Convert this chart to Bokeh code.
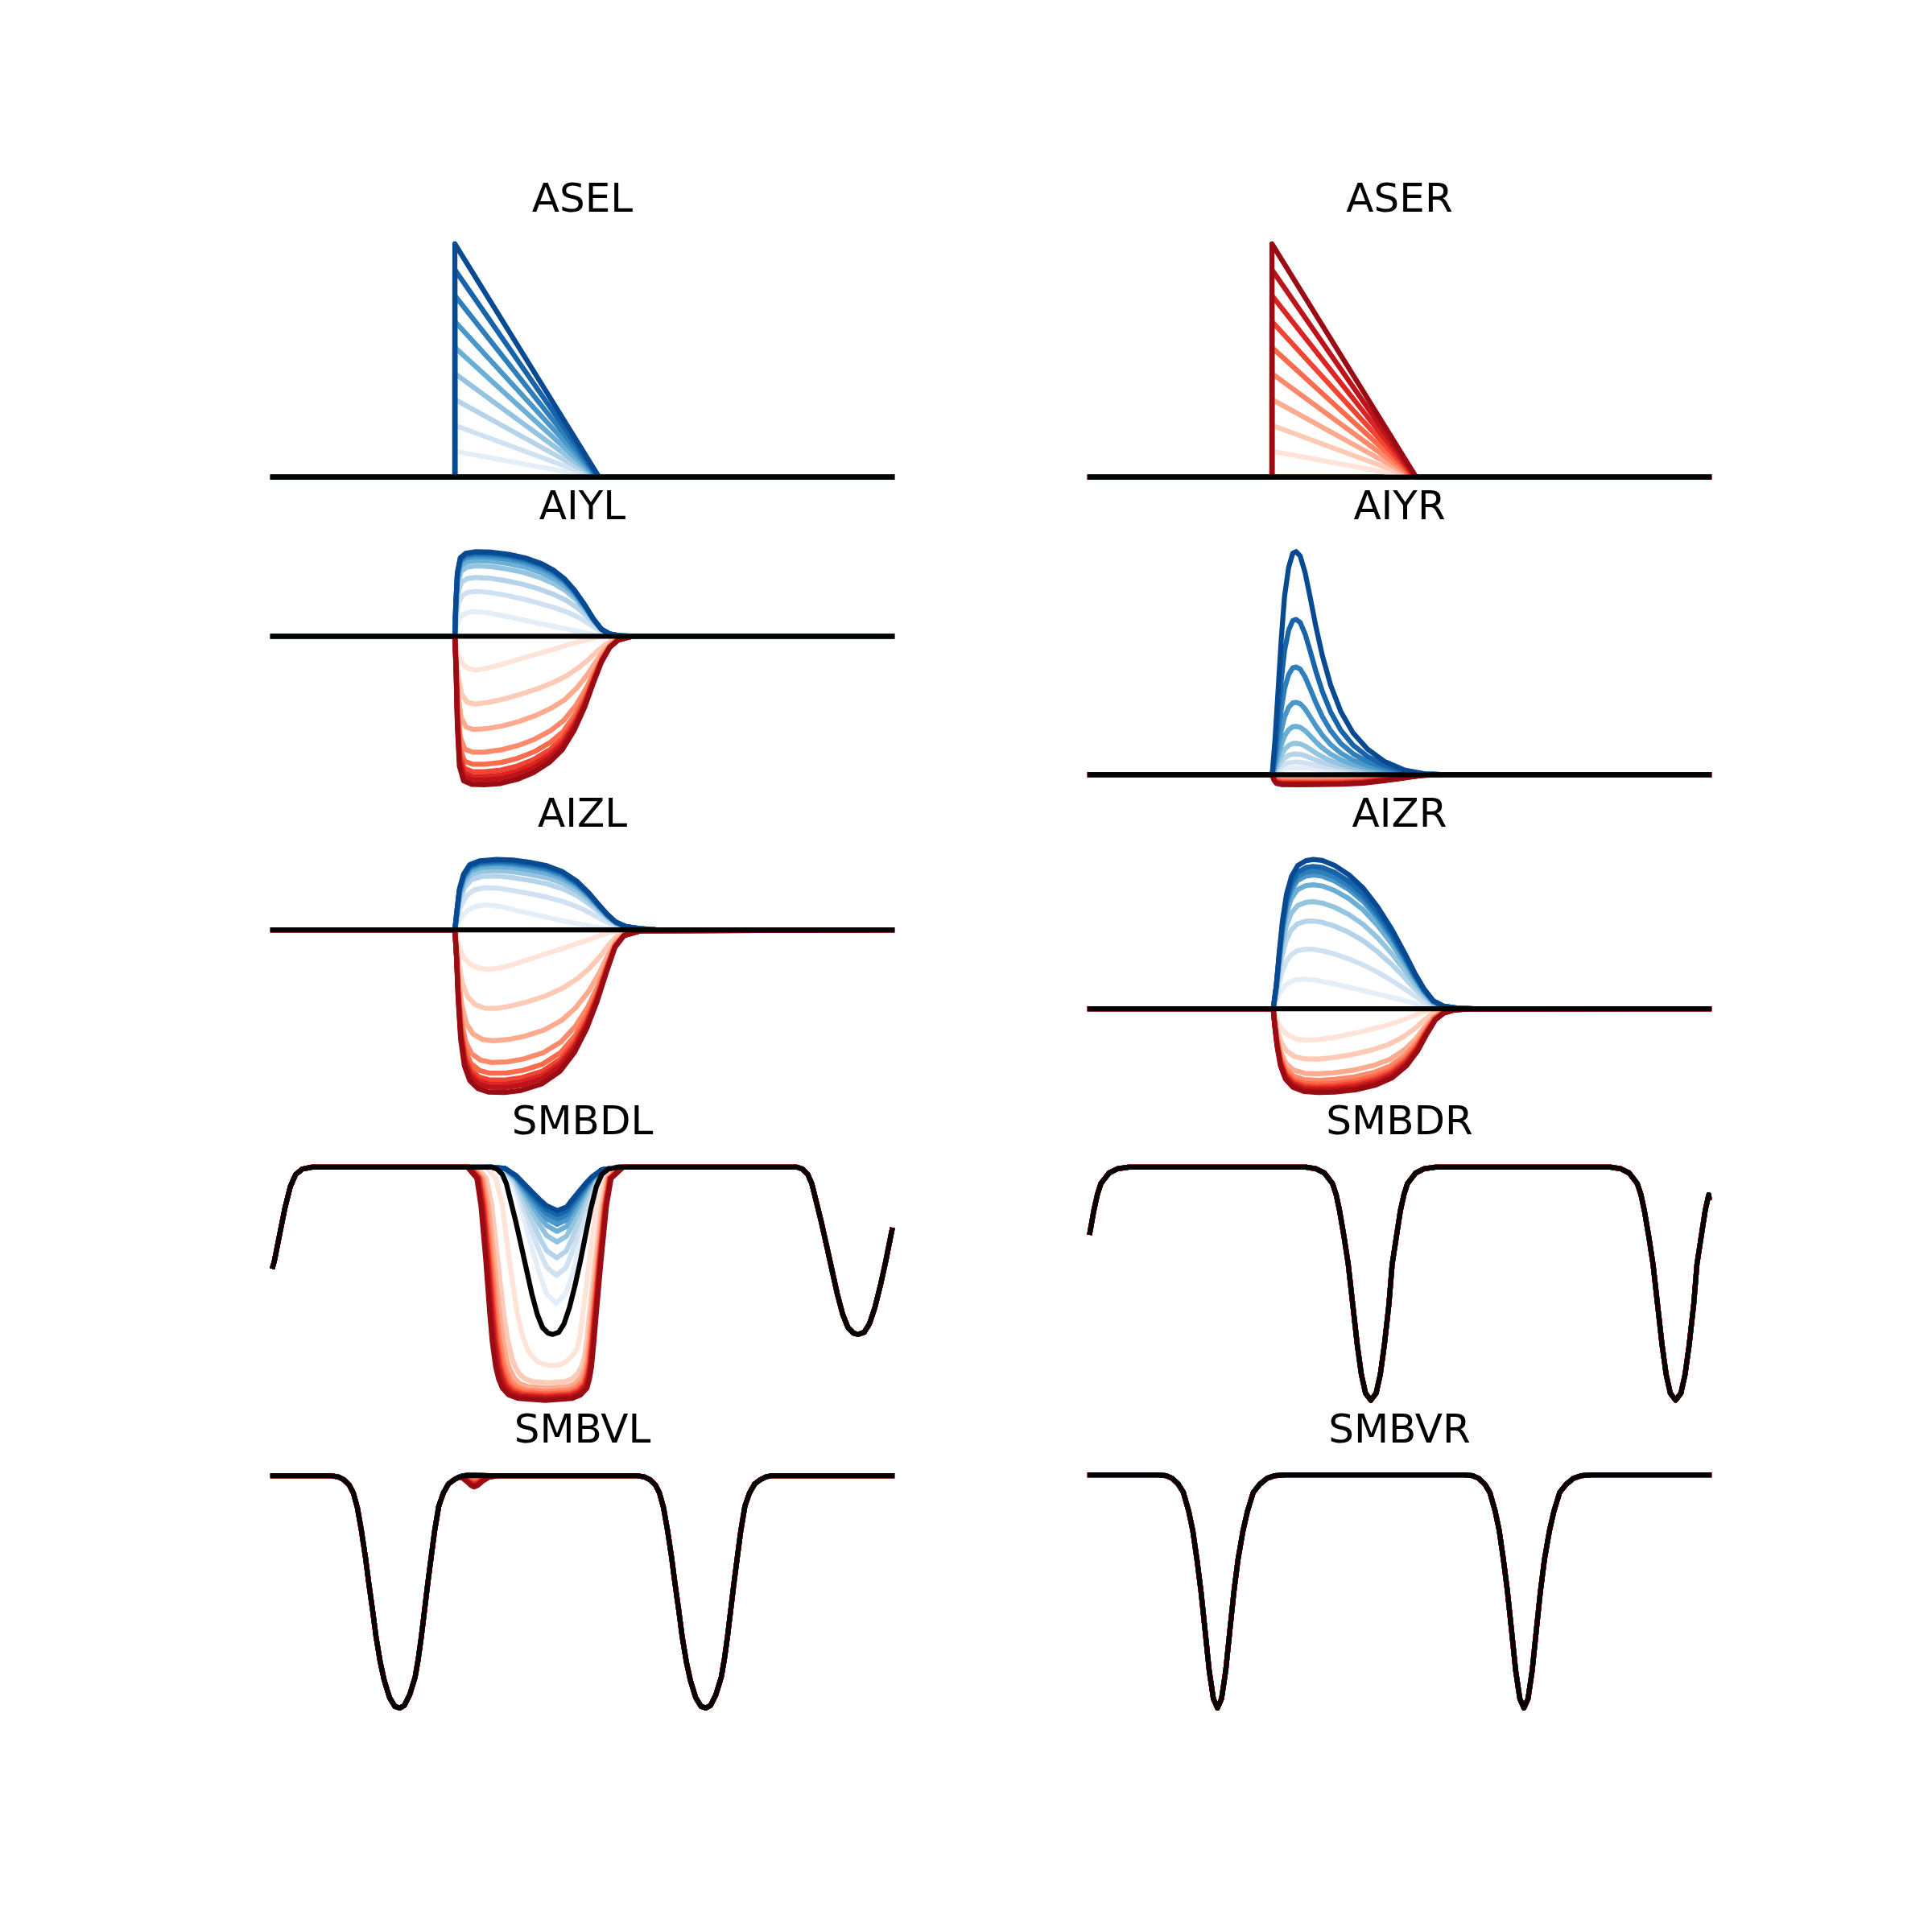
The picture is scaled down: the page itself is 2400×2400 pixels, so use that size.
import numpy as np
from bokeh.plotting import figure
from bokeh.layouts import column, row
from bokeh.models import Range1d, Label
from bokeh.embed import file_html
from bokeh.resources import INLINE

# ------------------------------------------------------------------ data
titles = [["ASEL", "ASER"], ["AIYL", "AIYR"], ["AIZL", "AIZR"],
          ["SMBDL", "SMBDR"], ["SMBVL", "SMBVR"]]
T0, T1 = 0.0, 100.0

# ASE sensory input: ramps (lightest k=1 curve, darkest k=9 curve, levels)
ase_t_light = [0.0, 29.4, 29.4, 51.9, 100.0]
ase_v_light = [0.0, 0.0, 0.111, 0.0, 0.0]
ase_t_dark = [0.0, 29.4, 29.4, 52.7, 100.0]
ase_v_dark = [0.0, 0.0, 1.0, 0.0, 0.0]
ase_levels = [0.111, 0.222, 0.333, 0.444, 0.556, 0.667, 0.778, 0.889, 1.0]

# AIYL
aiyl_blue_t_dark = [29.4, 29.54, 29.80, 30.27, 31.13, 32.79, 35.44, 38.10, 40.75, 43.41, 45.40,
                    47.06, 48.72, 50.38, 51.71, 53.03, 54.36, 56.02, 58.68]
aiyl_blue_v_dark = [0, 0.39, 0.79, 0.973, 1.03, 1.05, 1.043, 1.017, 0.973, 0.9, 0.817, 0.717,
                    0.573, 0.39, 0.223, 0.09, 0.03, 0.007, 0]
aiyl_blue_t_light = [29.4, 29.6, 30.0, 30.8, 31.79, 32.79, 34.78, 37.43, 40.09, 42.74, 45.40,
                     48.05, 50.05, 51.71, 53.03, 54.36, 55.69, 57.35, 58.68]
aiyl_blue_v_light = [0, 0.09, 0.207, 0.273, 0.303, 0.307, 0.29, 0.25, 0.207, 0.163, 0.123, 0.08,
                     0.05, 0.023, 0.007, 0, 0, 0, 0]
aiyl_blue_levels = [0.307, 0.557, 0.73, 0.873, 0.94, 0.99, 1.017, 1.037, 1.05]
aiyl_red_t_dark = [29.4, 29.6, 29.8, 30.13, 30.8, 32.12, 34.11, 36.77, 39.42, 42.08, 44.74,
                   46.73, 48.72, 50.38, 51.71, 53.03, 54.36, 55.69, 58.01]
aiyl_red_v_dark = [0, -0.443, -1.11, -1.61, -1.793, -1.837, -1.843, -1.827, -1.777, -1.693,
                   -1.56, -1.41, -1.16, -0.877, -0.593, -0.327, -0.143, -0.05, 0]
aiyl_red_t_light = [29.4, 29.6, 30.0, 30.66, 31.59, 32.79, 34.78, 37.43, 40.09, 42.74, 45.40,
                    47.72, 49.72, 51.38, 52.70, 54.03, 55.36, 56.69, 58.01]
aiyl_red_v_light = [0, -0.11, -0.243, -0.343, -0.403, -0.42, -0.393, -0.337, -0.277, -0.217,
                    -0.16, -0.103, -0.06, -0.03, -0.01, -0.003, 0, 0, 0]
aiyl_red_levels = [-0.42, -0.843, -1.16, -1.443, -1.593, -1.683, -1.743, -1.787, -1.843]

# AIYR
aiyr_blue_t = [29.44, 29.91, 30.37, 30.90, 31.43, 32.10, 32.76, 33.29, 33.96, 34.75, 35.55,
               36.48, 37.54, 38.87, 40.53, 42.52, 44.84, 47.50, 50.82, 54.13, 57.45]
aiyr_blue_v_dark = [0, 0.45, 1.017, 1.683, 2.217, 2.583, 2.757, 2.777, 2.723, 2.517, 2.217,
                    1.85, 1.483, 1.117, 0.783, 0.517, 0.317, 0.167, 0.057, 0.01, 0]
aiyr_blue_v_light = [0, 0.015, 0.035, 0.055, 0.07, 0.08, 0.084, 0.085, 0.084, 0.08, 0.075,
                     0.068, 0.06, 0.052, 0.043, 0.033, 0.024, 0.015, 0.007, 0.002, 0]
aiyr_blue_levels = [0.085, 0.157, 0.257, 0.39, 0.60, 0.90, 1.34, 1.933, 2.777]
aiyr_red_t = [29.44, 29.71, 30.11, 30.90, 33.56, 36.88, 40.86, 44.18, 47.50, 50.15, 52.14,
              53.80, 55.46, 57.45]
aiyr_red_v_dark = [0, -0.067, -0.11, -0.123, -0.127, -0.125, -0.12, -0.107, -0.077, -0.05,
                   -0.027, -0.01, -0.003, 0]
aiyr_red_v_light = [0, -0.01, -0.017, -0.02, -0.02, -0.02, -0.019, -0.017, -0.012, -0.008,
                    -0.004, -0.002, 0, 0]
aiyr_red_levels = [-0.02, -0.04, -0.06, -0.075, -0.088, -0.1, -0.11, -0.118, -0.127]

# AIZL
aizl_blue_t_dark = [29.4, 29.73, 30.13, 30.8, 31.79, 33.45, 36.11, 38.76, 41.42, 44.07, 46.73,
                    49.05, 51.04, 52.70, 54.03, 55.36, 57.02, 59.34, 61.99]
aizl_blue_v_dark = [0, 0.243, 0.51, 0.693, 0.81, 0.86, 0.877, 0.87, 0.843, 0.803, 0.727, 0.61,
                    0.46, 0.31, 0.193, 0.1, 0.043, 0.017, 0]
aizl_blue_t_light = [29.4, 29.87, 30.47, 31.46, 32.79, 34.45, 36.77, 39.42, 42.08, 44.74,
                     47.39, 49.72, 51.71, 53.37, 54.69, 56.02, 57.35, 59.67, 61.99]
aizl_blue_v_light = [0, 0.077, 0.16, 0.243, 0.293, 0.31, 0.29, 0.24, 0.195, 0.15, 0.105, 0.07,
                     0.04, 0.02, 0.008, 0.002, 0, 0, 0]
aizl_blue_levels = [0.31, 0.53, 0.677, 0.743, 0.793, 0.827, 0.843, 0.86, 0.877]
aizl_red_t_dark = [29.4, 29.67, 29.93, 30.33, 30.93, 31.79, 33.12, 34.78, 37.43, 40.09, 43.41,
                   46.40, 48.72, 50.71, 52.37, 53.90, 55.22, 56.68, 59.34]
aizl_red_v_dark = [0, -0.357, -0.857, -1.357, -1.69, -1.873, -1.973, -2.017, -2.023, -1.997,
                   -1.917, -1.757, -1.523, -1.223, -0.89, -0.523, -0.223, -0.073, -0.013]
aizl_red_t_light = [29.4, 29.73, 30.13, 30.8, 31.79, 33.12, 34.78, 36.77, 39.09, 41.75, 44.41,
                    47.06, 49.38, 51.38, 53.03, 54.36, 55.69, 57.35, 59.34]
aizl_red_v_light = [0, -0.09, -0.223, -0.34, -0.423, -0.473, -0.49, -0.473, -0.423, -0.357,
                    -0.29, -0.223, -0.163, -0.113, -0.063, -0.03, -0.01, 0, 0]
aizl_red_levels = [-0.49, -0.99, -1.39, -1.657, -1.79, -1.873, -1.923, -1.963, -2.023]

# AIZR
aizr_blue_t_dark = [29.6, 30.11, 30.57, 31.10, 31.76, 32.56, 33.56, 34.88, 36.08, 37.54, 39.53,
                    41.85, 44.18, 46.50, 48.82, 50.82, 52.47, 54.0, 55.46, 57.12, 59.44, 62.10]
aizr_blue_v_dark = [0, 0.293, 0.693, 1.093, 1.427, 1.643, 1.777, 1.837, 1.853, 1.84, 1.777,
                    1.66, 1.493, 1.26, 0.977, 0.693, 0.443, 0.243, 0.1, 0.033, 0.007, 0]
aizr_blue_t_light = [29.6, 29.97, 30.44, 30.97, 31.63, 32.43, 33.42, 34.75, 35.95, 37.41, 39.40,
                     41.72, 44.04, 46.37, 48.69, 50.68, 52.34, 53.87, 55.33, 56.99, 59.31, 62.10]
aizr_blue_v_light = [0, 0.077, 0.16, 0.233, 0.293, 0.337, 0.36, 0.367, 0.36, 0.34, 0.31, 0.267,
                     0.227, 0.183, 0.14, 0.103, 0.07, 0.04, 0.017, 0.003, 0, 0]
aizr_blue_levels = [0.367, 0.743, 1.093, 1.33, 1.54, 1.66, 1.71, 1.767, 1.853]
aizr_red_t_dark = [29.6, 29.84, 30.24, 30.77, 31.57, 32.76, 34.55, 36.88, 39.53, 42.85, 46.17,
                   48.82, 51.15, 52.94, 54.47, 55.79, 57.12, 58.78, 61.10]
aizr_red_v_dark = [0, -0.207, -0.473, -0.707, -0.873, -0.973, -1.027, -1.04, -1.033, -1.007,
                   -0.947, -0.857, -0.707, -0.523, -0.307, -0.14, -0.057, -0.017, -0.003]
aizr_red_t_light = [29.6, 29.91, 30.37, 31.03, 31.90, 33.22, 34.88, 36.88, 39.20, 42.19, 45.17,
                    47.83, 50.15, 52.14, 53.80, 55.13, 56.46, 58.45, 61.10]
aizr_red_v_light = [0, -0.073, -0.173, -0.257, -0.323, -0.373, -0.39, -0.383, -0.36, -0.313,
                    -0.26, -0.207, -0.15, -0.09, -0.04, -0.013, -0.003, 0, 0]
aizr_red_levels = [-0.39, -0.628, -0.81, -0.89, -0.937, -0.967, -0.99, -1.013, -1.04]

# SMB oscillators: black (unperturbed) dip profile, dip times, edge values
smbdl_dip_dt = [-9.88, -9.0, -8.15, -7.5, -6.85, -5.98, -5.11, -4.25, -3.38, -2.51, -1.65, -0.78,
                0.0, 0.95, 1.82, 2.69, 3.56, 4.43, 5.29, 6.16, 7.03, 7.9, 8.98, 10.5]
smbdl_dip_v = [1.0, 0.992, 0.969, 0.929, 0.860, 0.767, 0.664, 0.561, 0.457, 0.370, 0.313, 0.290,
               0.284, 0.293, 0.330, 0.399, 0.491, 0.595, 0.710, 0.825, 0.917, 0.969, 0.992, 1.0]
smbdl_dip_times = [-4.21, 45.22, 94.55]
smbdl_edges = [0.575, 0.73]
smbdl_blue_t_dark = [35.3, 37.5, 39.24, 40.54, 41.84, 43.14, 44.23, 45.96, 47.48, 48.34, 49.43,
                     50.51, 51.6, 53.12, 56.0]
smbdl_blue_v_dark = [1.0, 0.995, 0.965, 0.93, 0.895, 0.86, 0.835, 0.814, 0.83, 0.86, 0.895, 0.93,
                     0.96, 0.989, 1.0]
smbdl_blue_t_light = [35.3, 37.5, 39.24, 40.54, 41.84, 43.14, 44.23, 45.74, 47.26, 48.34, 49.43,
                      50.51, 51.6, 53.12, 56.0]
smbdl_blue_v_light = [1.0, 0.986, 0.906, 0.779, 0.652, 0.537, 0.457, 0.417, 0.457, 0.537, 0.652,
                      0.779, 0.906, 0.986, 1.0]
smbdl_blue_levels = [0.417, 0.537, 0.612, 0.68, 0.725, 0.755, 0.778, 0.797, 0.814]
smbdl_red_t_dark = [31.43, 32.95, 33.60, 34.38, 35.03, 35.45, 35.99, 36.45, 37.07, 38.1, 39.67,
                    44.01, 48.35, 49.7, 50.73, 51.15, 51.47, 51.85, 52.25, 53.03, 53.90, 54.64,
                    56.59]
smbdl_red_v_dark = [1.0, 0.952, 0.837, 0.607, 0.376, 0.25, 0.146, 0.095, 0.054, 0.025, 0.010,
                    0.002, 0.010, 0.025, 0.054, 0.095, 0.146, 0.25, 0.376, 0.607, 0.837, 0.952,
                    1.0]
smbdl_red_t_light = [34.47, 35.99, 37.07, 38.15, 39.46, 40.3, 41.19, 41.9, 42.71, 43.35, 44.01,
                     45.09, 46.39, 47.2, 47.91, 48.6, 49.21, 49.68, 50.08, 51.16, 52.25, 53.12,
                     54.85]
smbdl_red_v_light = [1.0, 0.952, 0.837, 0.607, 0.376, 0.28, 0.215, 0.19, 0.169, 0.16, 0.154,
                     0.150, 0.155, 0.165, 0.181, 0.2, 0.227, 0.29, 0.376, 0.607, 0.837, 0.952,
                     1.0]
smbdl_red_levels = [0.150, 0.077, 0.054, 0.039, 0.029, 0.022, 0.016, 0.010, 0.002]

smbdr_dip_dt = [-10.49, -8.83, -7.50, -6.18, -5.6, -5.05, -4.32, -3.65, -2.92, -2.19, -1.53,
                -0.86, 0.0, 0.86, 1.53, 2.19, 2.92, 3.45, 4.12, 4.78, 5.35, 5.91, 7.24, 8.57,
                10.43]
smbdr_dip_v = [1.0, 0.993, 0.975, 0.929, 0.882, 0.814, 0.70, 0.584, 0.411, 0.238, 0.111, 0.031,
               0.0, 0.031, 0.111, 0.238, 0.411, 0.584, 0.70, 0.814, 0.882, 0.929, 0.975, 0.993,
               1.0]
smbdr_dip_times = [-4.15, 45.37, 94.6]
smbdr_edges = [0.72, 0.87]

smbvl_dip_dt = [-11.19, -9.89, -9.02, -8.15, -7.50, -6.85, -6.20, -5.55, -4.99, -4.38, -3.82,
                -3.17, -2.52, -1.65, -0.78, 0.0, 0.74, 1.60, 2.47, 2.99, 3.47, 3.99, 4.51, 5.07,
                5.64, 6.29, 7.03, 7.89, 8.76, 9.63, 10.71]
smbvl_dip_v = [1.0, 0.994, 0.982, 0.959, 0.925, 0.862, 0.764, 0.649, 0.534, 0.419, 0.304, 0.200,
               0.120, 0.045, 0.007, 0.0, 0.011, 0.057, 0.132, 0.212, 0.304, 0.419, 0.534, 0.649,
               0.764, 0.868, 0.925, 0.965, 0.982, 0.994, 1.0]
smbvl_dip_times = [20.5, 69.95]
smbvl_edges = [1.0, 1.0]
smbvl_fam_t = [29.5, 30.13, 30.6, 31.3, 32.0, 32.5, 33.1, 33.9, 34.9, 36.5]
smbvl_red_v_dark = [0.986, 0.994, 0.99, 0.975, 0.958, 0.951, 0.958, 0.976, 0.993, 1.0]
smbvl_red_v_light = [0.986, 0.994, 0.996, 0.995, 0.994, 0.993, 0.994, 0.997, 0.999, 1.0]
smbvl_red_levels = [0.993, 0.988, 0.983, 0.978, 0.973, 0.967, 0.962, 0.956, 0.951]
smbvl_blue_v_dark = [0.986, 0.995, 0.999, 1.002, 1.003, 1.003, 1.002, 1.001, 1.0, 1.0]
smbvl_blue_v_light = [0.986, 0.994, 0.997, 0.999, 1.0, 1.0, 1.0, 1.0, 1.0, 1.0]
smbvl_blue_levels = [1.0, 1.0004, 1.0008, 1.0011, 1.0015, 1.0019, 1.0023, 1.0026, 1.003]

smbvr_dip_dt = [-9.63, -8.30, -7.30, -6.31, -5.51, -4.65, -3.98, -3.32, -2.66, -1.99, -1.33,
                -0.66, 0.0, 0.66, 1.33, 1.99, 2.66, 3.32, 4.12, 4.85, 5.78, 6.84, 7.97, 9.30, 10.96]
smbvr_dip_v = [1.0, 0.997, 0.985, 0.960, 0.925, 0.845, 0.76, 0.638, 0.50, 0.33, 0.16, 0.04, 0.0,
               0.04, 0.16, 0.33, 0.50, 0.638, 0.76, 0.845, 0.925, 0.960, 0.985, 0.997, 1.0]
smbvr_dip_times = [20.6, 70.1]
smbvr_edges = [1.0, 1.0]

BLUES_ANCHORS = ["#f7fbff", "#deebf7", "#c6dbef", "#9ecae1", "#6baed6", "#4292c6",
                 "#2171b5", "#08519c", "#08306b"]
REDS_ANCHORS = ["#fff5f0", "#fee0d2", "#fcbba1", "#fc9272", "#fb6a4a", "#ef3b2c",
                "#cb181d", "#a50f15", "#67000d"]
color_positions = [0.1, 0.2, 0.3, 0.4, 0.5, 0.6, 0.7, 0.8, 0.9]


# ------------------------------------------------------------------ helpers
def cmap(anchors, x):
    pos = np.linspace(0, 1, len(anchors))
    rgb = np.array([[int(a[i:i + 2], 16) for i in (1, 3, 5)] for a in anchors], float)
    c = [int(round(np.interp(x, pos, rgb[:, j]))) for j in range(3)]
    return "#%02x%02x%02x" % tuple(c)


BLUE_COLORS = [cmap(BLUES_ANCHORS, x) for x in color_positions]
RED_COLORS = [cmap(REDS_ANCHORS, x) for x in color_positions]


def family(t_light, v_light, t_dark, v_dark, levels):
    tl, vl, td, vd = (np.asarray(a, float) for a in (t_light, v_light, t_dark, v_dark))
    L = np.asarray(levels, float)
    w = (L - L[0]) / (L[-1] - L[0])
    return [((1 - a) * tl + a * td, (1 - a) * vl + a * vd) for a in w]


def pad0(curves):
    return [(np.r_[T0, t, T1], np.r_[0.0, v, 0.0]) for t, v in curves]


def flat(n):
    return [(np.array([T0, T1]), np.array([0.0, 0.0])) for _ in range(n)]


def oscillation(dip_dt, dip_v, times, edges):
    ts, vs = [], []
    for c in times:
        for d, val in zip(dip_dt, dip_v):
            t = c + d
            if T0 < t < T1:
                ts.append(t)
                vs.append(val)
    order = np.argsort(ts)
    t = np.r_[T0, np.asarray(ts)[order], T1]
    v = np.r_[edges[0], np.asarray(vs)[order], edges[1]]
    return t, v


def splice(base, curves):
    bt, bv = base
    out = []
    for t, v in curves:
        left = bt < t[0]
        right = bt > t[-1]
        out.append((np.r_[bt[left], t, bt[right]], np.r_[bv[left], v, bv[right]]))
    return out


# ------------------------------------------------------------------ panels
zero_black = (np.array([T0, T1]), np.array([0.0, 0.0]))
panels = {}
panels["ASEL"] = (family(ase_t_light, ase_v_light, ase_t_dark, ase_v_dark, ase_levels),
                  flat(9), zero_black)
panels["ASER"] = (flat(9),
                  family(ase_t_light, ase_v_light, ase_t_dark, ase_v_dark, ase_levels),
                  zero_black)
panels["AIYL"] = (pad0(family(aiyl_blue_t_light, aiyl_blue_v_light, aiyl_blue_t_dark,
                              aiyl_blue_v_dark, aiyl_blue_levels)),
                  pad0(family(aiyl_red_t_light, aiyl_red_v_light, aiyl_red_t_dark,
                              aiyl_red_v_dark, aiyl_red_levels)), zero_black)
panels["AIYR"] = (pad0(family(aiyr_blue_t, aiyr_blue_v_light, aiyr_blue_t,
                              aiyr_blue_v_dark, aiyr_blue_levels)),
                  pad0(family(aiyr_red_t, aiyr_red_v_light, aiyr_red_t,
                              aiyr_red_v_dark, aiyr_red_levels)), zero_black)
panels["AIZL"] = (pad0(family(aizl_blue_t_light, aizl_blue_v_light, aizl_blue_t_dark,
                              aizl_blue_v_dark, aizl_blue_levels)),
                  pad0(family(aizl_red_t_light, aizl_red_v_light, aizl_red_t_dark,
                              aizl_red_v_dark, aizl_red_levels)), zero_black)
panels["AIZR"] = (pad0(family(aizr_blue_t_light, aizr_blue_v_light, aizr_blue_t_dark,
                              aizr_blue_v_dark, aizr_blue_levels)),
                  pad0(family(aizr_red_t_light, aizr_red_v_light, aizr_red_t_dark,
                              aizr_red_v_dark, aizr_red_levels)), zero_black)

smbdl_black = oscillation(smbdl_dip_dt, smbdl_dip_v, smbdl_dip_times, smbdl_edges)
panels["SMBDL"] = (splice(smbdl_black, family(smbdl_blue_t_light, smbdl_blue_v_light,
                                              smbdl_blue_t_dark, smbdl_blue_v_dark,
                                              smbdl_blue_levels)),
                   splice(smbdl_black, family(smbdl_red_t_light, smbdl_red_v_light,
                                              smbdl_red_t_dark, smbdl_red_v_dark,
                                              smbdl_red_levels)), smbdl_black)
smbdr_black = oscillation(smbdr_dip_dt, smbdr_dip_v, smbdr_dip_times, smbdr_edges)
panels["SMBDR"] = ([smbdr_black] * 9, [smbdr_black] * 9, smbdr_black)
smbvl_black = oscillation(smbvl_dip_dt, smbvl_dip_v, smbvl_dip_times, smbvl_edges)
panels["SMBVL"] = (splice(smbvl_black, family(smbvl_fam_t, smbvl_blue_v_light, smbvl_fam_t,
                                              smbvl_blue_v_dark, smbvl_blue_levels)),
                   splice(smbvl_black, family(smbvl_fam_t, smbvl_red_v_light, smbvl_fam_t,
                                              smbvl_red_v_dark, smbvl_red_levels)), smbvl_black)
smbvr_black = oscillation(smbvr_dip_dt, smbvr_dip_v, smbvr_dip_times, smbvr_edges)
panels["SMBVR"] = ([smbvr_black] * 9, [smbvr_black] * 9, smbvr_black)

# ------------------------------------------------------------------ layout
AX_H = 318.6                                   # height of each data box (px)
AX_TOP = [288 + 382.3 * r for r in range(5)]   # page y of each data box top
BOUNDS = [150, 670, 1053, 1435, 1817, 2156]    # figure frame edges (page y)
TITLE_PAD = 43                                 # title anchor above its box
FRAME_W = 846
COL_BORDERS = [(300, 84), (85, 20)]
LW = 6.25

rows = []
for r in range(5):
    figs = []
    f_top, f_bot = BOUNDS[r], BOUNDS[r + 1]
    frame_h = f_bot - f_top
    for c in range(2):
        name = titles[r][c]
        blues, reds, black = panels[name]
        allv = np.concatenate([v for _, v in blues + reds + [black]])
        lo, hi = allv.min(), allv.max()
        d = hi - lo
        px_per = AX_H / (1.1 * d)
        top_val = hi + 0.05 * d
        y1 = top_val + (AX_TOP[r] - f_top) / px_per
        y0 = y1 - frame_h / px_per
        top_border = f_top if r == 0 else 0
        bl, br = COL_BORDERS[c]
        p = figure(width=bl + FRAME_W + br, height=top_border + frame_h,
                   x_range=Range1d(T0 - 5, T1 + 5), y_range=Range1d(y0, y1),
                   output_backend="svg", toolbar_location=None, title=None,
                   x_axis_location=None, y_axis_location=None,
                   min_border_left=bl, min_border_right=br,
                   min_border_top=top_border, min_border_bottom=0)
        p.outline_line_color = None
        p.background_fill_color = "white"
        p.border_fill_color = "white"
        p.xgrid.visible = False
        p.ygrid.visible = False
        for (t, v), col in zip(blues, BLUE_COLORS):
            p.line(t, v, line_color=col, line_width=LW, line_join="round", line_cap="square")
        for (t, v), col in zip(reds, RED_COLORS):
            p.line(t, v, line_color=col, line_width=LW, line_join="round", line_cap="square")
        p.line(black[0], black[1], line_color="black", line_width=LW, line_join="round",
               line_cap="square")
        # panel titles: the one of this panel (top row) and the one of the panel below,
        # whose title sits in the gap that belongs to this figure's frame
        title_items = []
        if r == 0:
            title_items.append((name, top_val + TITLE_PAD / px_per))
        if r < 4:
            below = titles[r + 1][c]
            title_items.append((below, top_val - (AX_TOP[r + 1] - TITLE_PAD - AX_TOP[r]) / px_per))
        for txt, ty in title_items:
            p.add_layout(Label(x=(T0 + T1) / 2, y=ty, text=txt,
                               text_align="center", text_baseline="alphabetic",
                               text_font="DejaVu Sans", text_font_size="50px",
                               text_color="black"))
        figs.append(p)
    rows.append(row(*figs))

layout = column(*rows)
open("out.html", "w").write(file_html(layout, INLINE))
